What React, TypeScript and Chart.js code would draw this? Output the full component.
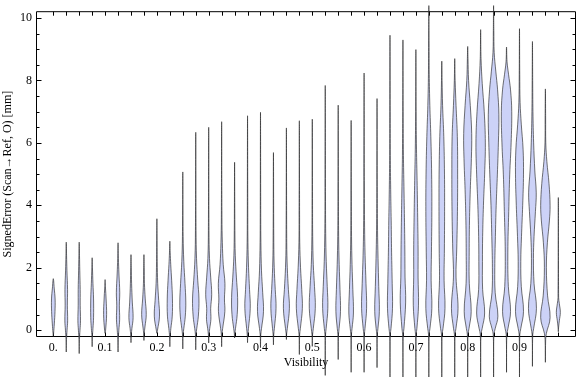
import React, { useEffect, useRef } from 'react';
import { Chart, registerables } from 'chart.js';

Chart.register(...registerables);

// ---- data ----
const visibility = [
  0, 0.025, 0.05, 0.075, 0.1, 0.125, 0.15, 0.175, 0.2, 0.225,
  0.25, 0.275, 0.3, 0.325, 0.35, 0.375, 0.4, 0.425, 0.45, 0.475,
  0.5, 0.525, 0.55, 0.575, 0.6, 0.625, 0.65, 0.675, 0.7, 0.725,
  0.75, 0.775, 0.8, 0.825, 0.85, 0.875, 0.9, 0.925, 0.95, 0.975,
];

// minimum signed error of each bin
const lows = [
  -0.2, -0.7, -0.75, -0.53, -0.1, -0.7, -0.4, -0.33, -0.1, -0.53,
  -0.6, -0.63, -0.41, -0.53, -0.25, -0.4, -0.56, -0.47, -0.3, -0.78,
  -0.52, -1.45, -0.94, -1.35, -1.35, -1.2, -1.6, -1.6, -1.6, -1.6,
  -1.6, -1.6, -1.6, -1.6, -1.6, -1.35, -1.6, -1.16, -1.03, -0.05,
];

// maximum signed error of each bin
const highs = [
  1.65, 2.82, 2.82, 2.32, 1.62, 2.8, 2.42, 2.42, 3.57, 2.85,
  5.07, 6.34, 6.5, 6.68, 5.38, 6.87, 6.98, 5.69, 6.48, 6.71,
  6.76, 7.84, 7.21, 6.72, 8.24, 7.42, 9.45, 9.3, 8.99, 10.4,
  8.62, 8.7, 9.09, 9.63, 10.4, 9.07, 9.66, 9.25, 7.73, 4.25,
];

// density profile of each bin: [signed error, density]
const densities: number[][][] = [
  [[-0.1, 0.3], [0.2, 1.0], [0.6, 1.7], [1.0, 1.8], [1.35, 0.9]],
  [[-0.3, 0.25], [0.0, 0.8], [0.3, 1.4], [0.8, 1.1], [1.3, 1.3], [1.9, 0.7], [2.4, 0.3]],
  [[-0.3, 0.25], [0.0, 0.8], [0.3, 1.3], [0.8, 1.0], [1.3, 1.0], [1.9, 0.6], [2.4, 0.3]],
  [[-0.2, 0.25], [0.05, 0.8], [0.4, 1.4], [1.0, 1.4], [1.5, 0.8], [2.0, 0.3]],
  [[0.0, 0.5], [0.5, 1.5], [1.0, 1.0], [1.35, 0.4]],
  [[-0.3, 0.25], [0.0, 0.8], [0.35, 1.6], [0.8, 1.3], [1.2, 1.7], [1.8, 0.9], [2.3, 0.35]],
  [[-0.15, 0.3], [0.05, 0.9], [0.4, 2.1], [0.9, 1.3], [1.5, 0.6], [2.0, 0.3]],
  [[-0.1, 0.3], [0.1, 1.0], [0.5, 2.3], [1.0, 1.3], [1.5, 0.5], [2.0, 0.3]],
  [[0.0, 0.6], [0.45, 2.6], [0.95, 1.8], [1.5, 0.8], [2.2, 0.35]],
  [[-0.2, 0.3], [0.05, 1.0], [0.45, 2.4], [1.0, 2.6], [1.6, 1.8], [2.1, 0.9], [2.5, 0.35]],
  [[-0.15, 0.3], [0.05, 1.0], [0.45, 2.5], [0.9, 3.0], [1.5, 2.2], [2.2, 1.0], [3.0, 0.35]],
  [[-0.15, 0.3], [0.05, 1.0], [0.45, 2.6], [1.0, 3.2], [1.6, 2.0], [2.3, 0.8], [3.2, 0.3]],
  [[-0.15, 0.3], [0.05, 1.0], [0.35, 2.2], [0.7, 2.0], [1.15, 3.0], [1.7, 2.0], [2.3, 0.8], [3.2, 0.3]],
  [[-0.15, 0.3], [0.05, 1.0], [0.6, 3.2], [1.0, 2.8], [1.5, 3.3], [2.1, 1.6], [2.8, 0.7], [3.6, 0.3]],
  [[-0.1, 0.3], [0.05, 0.9], [0.5, 2.6], [1.05, 3.0], [1.7, 1.8], [2.4, 0.7], [3.2, 0.3]],
  [[-0.15, 0.3], [0.05, 0.9], [0.7, 2.7], [1.3, 2.0], [2.0, 1.0], [2.8, 0.4], [3.6, 0.25]],
  [[-0.15, 0.3], [0.05, 1.0], [0.6, 3.0], [1.2, 2.2], [1.9, 1.0], [2.8, 0.4], [3.6, 0.25]],
  [[-0.15, 0.3], [0.05, 0.9], [0.7, 2.6], [1.3, 1.8], [2.0, 0.8], [2.8, 0.35]],
  [[-0.1, 0.3], [0.05, 0.9], [0.7, 3.0], [1.3, 2.0], [2.0, 0.9], [2.8, 0.35]],
  [[-0.15, 0.3], [0.05, 1.0], [0.7, 3.0], [1.3, 2.4], [2.0, 1.2], [2.8, 0.4], [3.6, 0.25]],
  [[-0.15, 0.3], [0.05, 1.0], [0.7, 3.0], [1.4, 2.2], [2.1, 1.0], [3.0, 0.4], [4.0, 0.25]],
  [[-0.15, 0.3], [0.05, 0.9], [0.7, 2.6], [1.4, 2.0], [2.2, 1.0], [3.1, 0.45], [4.3, 0.25]],
  [[-0.15, 0.3], [0.05, 0.9], [0.6, 2.3], [1.3, 1.8], [2.1, 1.0], [3.0, 0.45], [4.3, 0.25]],
  [[-0.15, 0.3], [0.05, 0.9], [0.55, 2.3], [1.3, 1.7], [2.1, 0.9], [3.0, 0.4], [4.3, 0.25]],
  [[-0.15, 0.3], [0.05, 0.9], [0.7, 2.5], [1.5, 1.9], [2.4, 1.0], [3.3, 0.5], [4.8, 0.25]],
  [[-0.15, 0.3], [0.05, 0.9], [0.6, 2.3], [1.4, 1.7], [2.3, 1.0], [3.2, 0.5], [4.6, 0.25]],
  [[-0.15, 0.3], [0.05, 1.0], [0.7, 2.5], [1.5, 2.2], [2.5, 1.6], [3.5, 1.2], [4.5, 0.7], [5.6, 0.35], [7.0, 0.25]],
  [[-0.15, 0.3], [0.05, 1.0], [0.9, 2.7], [1.7, 2.1], [2.6, 1.9], [3.6, 1.5], [4.6, 1.0], [5.6, 0.5], [7.0, 0.25]],
  [[-0.15, 0.3], [0.05, 1.0], [0.8, 2.6], [1.7, 2.2], [2.6, 2.2], [3.6, 1.8], [4.8, 1.2], [5.8, 0.6], [7.0, 0.25]],
  [[-0.15, 0.3], [0.05, 1.1], [0.7, 3.0], [1.6, 2.3], [2.5, 2.6], [3.8, 3.0], [5.0, 2.8], [6.2, 2.0], [7.2, 1.0], [8.2, 0.4], [9.2, 0.25]],
  [[-0.15, 0.3], [0.05, 1.2], [0.7, 3.2], [1.6, 2.3], [2.6, 2.6], [3.8, 2.8], [5.0, 2.7], [6.2, 2.0], [7.2, 0.8], [8.0, 0.3]],
  [[-0.15, 0.3], [0.05, 1.2], [0.7, 3.3], [1.7, 1.3], [2.6, 2.0], [3.8, 2.7], [5.0, 2.9], [6.2, 2.6], [7.2, 1.3], [8.0, 0.4]],
  [[-0.15, 0.3], [0.05, 1.3], [0.6, 3.5], [1.5, 1.6], [2.5, 1.5], [3.5, 1.8], [4.5, 2.6], [5.5, 3.7], [6.3, 4.0], [7.2, 2.6], [8.0, 0.9], [8.7, 0.3]],
  [[-0.15, 0.3], [0.05, 1.5], [0.55, 4.0], [1.3, 2.0], [2.2, 1.8], [3.0, 2.0], [4.0, 2.8], [5.0, 4.0], [6.0, 4.7], [7.0, 3.6], [7.9, 1.6], [8.7, 0.4]],
  [[-0.15, 0.3], [0.05, 1.6], [0.45, 4.3], [1.2, 1.6], [2.0, 1.2], [3.0, 1.8], [4.0, 2.6], [5.0, 3.8], [6.0, 4.8], [6.9, 5.3], [7.7, 4.0], [8.3, 2.2], [8.9, 0.6], [9.6, 0.25]],
  [[-0.15, 0.3], [0.05, 1.4], [0.6, 4.0], [1.4, 1.8], [2.5, 1.3], [3.8, 2.2], [5.0, 3.2], [6.0, 4.6], [7.0, 5.2], [7.7, 4.0], [8.2, 2.0], [8.6, 0.5]],
  [[-0.15, 0.3], [0.05, 1.3], [0.6, 4.0], [1.4, 1.8], [2.2, 1.3], [3.0, 2.0], [4.0, 3.2], [5.0, 4.0], [5.8, 3.6], [6.6, 1.8], [7.3, 0.6], [8.2, 0.25]],
  [[-0.15, 0.3], [0.05, 1.2], [0.7, 4.0], [1.5, 1.6], [2.3, 1.0], [3.0, 1.6], [3.8, 3.0], [4.4, 3.8], [5.1, 2.4], [6.0, 1.2], [7.0, 0.5], [8.0, 0.25]],
  [[-0.3, 0.3], [-0.1, 1.0], [0.4, 4.7], [1.1, 2.2], [2.0, 1.0], [2.8, 2.0], [3.5, 4.0], [4.0, 4.7], [4.7, 3.6], [5.4, 1.5], [6.0, 0.4], [6.8, 0.25]],
  [[0.1, 0.3], [0.3, 1.0], [0.57, 2.0], [0.85, 1.0], [1.05, 0.3]],
];

const xTickValues = [0, 0.1, 0.2, 0.3, 0.4, 0.5, 0.6, 0.7, 0.8, 0.9];
const xTickLabels = ['0.', '0.1', '0.2', '0.3', '0.4', '0.5', '0.6', '0.7', '0.8', '0.9'];
const yTickValues = [0, 2, 4, 6, 8, 10];
const yMinorTickValues = [0.5, 1, 1.5, 2.5, 3, 3.5, 4.5, 5, 5.5, 6.5, 7, 7.5, 8.5, 9, 9.5];

const xTitle = 'Visibility';
const yTitle = 'SignedError (Scan\u2192Ref, O) [mm]';

// ---- style ----
const FONT = 'Liberation Serif';
const FILL = 'rgb(204, 210, 247)';
const EDGE = 'rgba(30, 30, 30, 0.62)';
const DENSITY_TO_X = 1 / 518; // half-width per unit density, in visibility units

const violinFillPlugin = {
  id: 'violinFill',
  beforeDatasetDraw(chart: any, args: any) {
    const line = args.meta.dataset;
    if (!line || !line.points || !line.points.length) return;
    const ctx = chart.ctx;
    ctx.save();
    ctx.beginPath();
    line.path(ctx);
    ctx.closePath();
    ctx.fillStyle = chart.data.datasets[args.index].backgroundColor;
    ctx.fill();
    ctx.restore();
  },
};

const framePlugin = {
  id: 'frame',
  beforeDatasetsDraw(chart: any) {
    const { ctx, chartArea, scales } = chart;
    const x1 = chartArea.left + 0.5;
    const x2 = chartArea.right - 0.5;
    const y1 = chartArea.top + 0.5;
    const y2 = chartArea.bottom - 0.5;
    ctx.save();
    ctx.strokeStyle = '#000';
    ctx.lineWidth = 1;
    ctx.beginPath();
    ctx.rect(x1, y1, x2 - x1, y2 - y1);
    ctx.stroke();
    ctx.beginPath();
    for (const v of visibility) {
      const px = Math.round(scales.x.getPixelForValue(v)) + 0.5;
      ctx.moveTo(px, y1); ctx.lineTo(px, y1 + 4);
      ctx.moveTo(px, y2); ctx.lineTo(px, y2 - 4);
    }
    for (const v of yTickValues) {
      const py = Math.round(scales.y.getPixelForValue(v)) + 0.5;
      ctx.moveTo(x1, py); ctx.lineTo(x1 + 5, py);
      ctx.moveTo(x2, py); ctx.lineTo(x2 - 5, py);
    }
    for (const v of yMinorTickValues) {
      const py = Math.round(scales.y.getPixelForValue(v)) + 0.5;
      ctx.moveTo(x1, py); ctx.lineTo(x1 + 3, py);
      ctx.moveTo(x2, py); ctx.lineTo(x2 - 3, py);
    }
    ctx.stroke();
    ctx.restore();
  },
};

function violinOutline(i: number) {
  const c = visibility[i];
  const prof = densities[i];
  const right = prof.map(([y, w]) => ({ x: c + w * DENSITY_TO_X, y }));
  const left = prof.slice().reverse().map(([y, w]) => ({ x: c - w * DENSITY_TO_X, y }));
  return [{ x: c, y: lows[i] }, ...right, { x: c, y: highs[i] }, ...left, { x: c, y: lows[i] }];
}

export default function App() {
  const canvasRef = useRef<HTMLCanvasElement | null>(null);

  useEffect(() => {
    if (!canvasRef.current) return;
    const datasets = visibility.map((_, i) => ({
      data: violinOutline(i),
      borderColor: EDGE,
      backgroundColor: FILL,
      borderWidth: 1,
      pointRadius: 0,
      pointHoverRadius: 0,
      fill: false,
      tension: 0.4,
      clip: false as any,
    }));

    const chart = new Chart(canvasRef.current, {
      type: 'line',
      data: { datasets },
      plugins: [violinFillPlugin, framePlugin],
      options: {
        animation: false,
        responsive: false,
        devicePixelRatio: 1,
        events: [],
        layout: { padding: { top: 4, right: 0, left: 0, bottom: 0 } },
        elements: { line: { capBezierPoints: false } },
        plugins: { legend: { display: false }, tooltip: { enabled: false } },
        scales: {
          x: {
            type: 'linear',
            min: -0.0334,
            max: 1.0091,
            afterFit: (s: any) => { s.height = 40; },
            afterBuildTicks: (s: any) => { s.ticks = xTickValues.map((v) => ({ value: v })); },
            grid: { display: false, drawTicks: false },
            border: { display: false },
            ticks: {
              padding: 4,
              maxRotation: 0,
              autoSkip: false,
              color: '#000',
              font: { family: FONT, size: 12 },
              callback: (_v: any, idx: number) => xTickLabels[idx],
            },
            title: {
              display: true,
              text: xTitle,
              color: '#000',
              font: { family: FONT, size: 12 },
              padding: { top: 0, bottom: 7 },
            },
          },
          y: {
            type: 'linear',
            min: -0.219,
            max: 10.22,
            afterFit: (s: any) => { s.width = 36; },
            afterBuildTicks: (s: any) => { s.ticks = yTickValues.map((v) => ({ value: v })); },
            grid: { display: false, drawTicks: false },
            border: { display: false },
            ticks: {
              padding: 4,
              autoSkip: false,
              color: '#000',
              font: { family: FONT, size: 12 },
              callback: (v: any) => String(v),
            },
            title: {
              display: true,
              text: yTitle,
              color: '#000',
              font: { family: FONT, size: 12 },
              padding: { top: 1, bottom: 0 },
            },
          },
        },
      },
    } as any);
    return () => chart.destroy();
  }, []);

  return (
    <div style={{ position: 'absolute', left: 0, top: 0, width: 576, height: 377, background: '#fff' }}>
      <canvas ref={canvasRef} width={576} height={377} style={{ display: 'block' }} />
    </div>
  );
}
